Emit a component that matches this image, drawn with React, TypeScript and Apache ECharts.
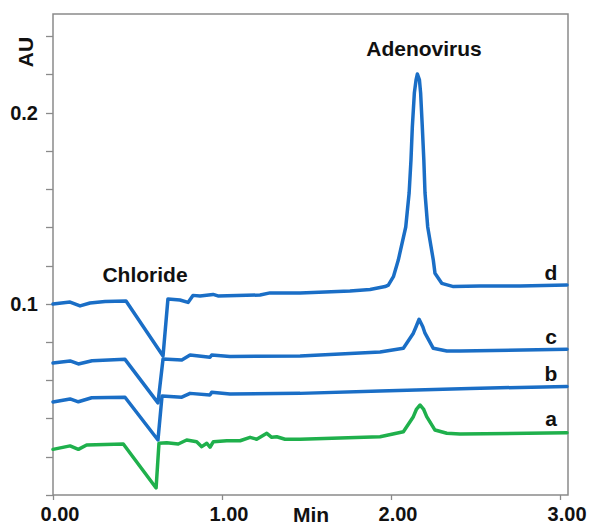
import React, { useEffect, useRef } from "react";
import * as echarts from "echarts";

const xTicks = [0, 1, 2, 3];
const yLabelValues = [0.1, 0.2];

const traceD: [number, number][] = [
  [0.0, 0.1], [0.101, 0.101], [0.16, 0.099], [0.219, 0.1005], [0.308, 0.1013], [0.432, 0.1016],
  [0.651, 0.0728], [0.68, 0.1026], [0.751, 0.1021], [0.799, 0.1008], [0.828, 0.1045], [0.87, 0.1042],
  [0.947, 0.105], [0.976, 0.1042], [1.225, 0.1047], [1.284, 0.1058], [1.462, 0.1058], [1.757, 0.1068],
  [1.876, 0.1076], [1.965, 0.1091], [1.984, 0.1099], [2.014, 0.1143], [2.043, 0.123], [2.087, 0.1403],
  [2.107, 0.1581], [2.118, 0.1754], [2.126, 0.1927], [2.138, 0.2105], [2.148, 0.2173], [2.156, 0.2204],
  [2.168, 0.2173], [2.175, 0.2105], [2.185, 0.1927], [2.194, 0.1754], [2.201, 0.1581], [2.217, 0.1403],
  [2.25, 0.123], [2.26, 0.1161], [2.3, 0.1108], [2.369, 0.1091], [2.527, 0.1094], [2.763, 0.1094],
  [3.041, 0.1099],
];

const traceC: [number, number][] = [
  [0.0, 0.0691], [0.101, 0.0702], [0.15, 0.0686], [0.231, 0.0703], [0.426, 0.071], [0.621, 0.0482],
  [0.651, 0.0712], [0.762, 0.0707], [0.811, 0.0733], [0.929, 0.0721], [0.939, 0.0733], [1.047, 0.0725],
  [1.462, 0.0728], [1.935, 0.0749], [2.073, 0.0768], [2.132, 0.0847], [2.148, 0.0881], [2.166, 0.092],
  [2.188, 0.0881], [2.201, 0.0847], [2.25, 0.0768], [2.33, 0.0754], [2.408, 0.0754], [3.041, 0.0763],
];

const traceB: [number, number][] = [
  [0.0, 0.0487], [0.101, 0.0503], [0.15, 0.0488], [0.229, 0.0509], [0.426, 0.0512], [0.621, 0.0288],
  [0.645, 0.0518], [0.762, 0.0512], [0.811, 0.0532], [0.929, 0.0524], [0.939, 0.0538], [1.047, 0.0529],
  [1.462, 0.0532], [1.935, 0.0545], [2.468, 0.0558], [3.041, 0.0568],
];

const traceA: [number, number][] = [
  [0.0, 0.0239], [0.101, 0.0257], [0.15, 0.0239], [0.199, 0.0262], [0.416, 0.0267], [0.61, 0.0037],
  [0.627, 0.0271], [0.673, 0.0274], [0.741, 0.0267], [0.791, 0.0288], [0.85, 0.0279], [0.88, 0.0253],
  [0.91, 0.0271], [0.929, 0.025], [0.949, 0.0279], [1.028, 0.0284], [1.107, 0.0284], [1.166, 0.0302],
  [1.205, 0.0292], [1.265, 0.0323], [1.294, 0.0302], [1.324, 0.0305], [1.373, 0.0292], [1.462, 0.0292],
  [1.935, 0.0305], [2.073, 0.0331], [2.132, 0.041], [2.151, 0.045], [2.172, 0.0471], [2.192, 0.045],
  [2.211, 0.041], [2.26, 0.034], [2.33, 0.0323], [2.408, 0.0319], [3.041, 0.0326],
];

const BLUE = "#1a6ec6";
const GREEN = "#1fb04c";
const FONT = "'Liberation Sans', Arial, sans-serif";

export default function App() {
  const ref = useRef<HTMLDivElement>(null);
  useEffect(() => {
    if (!ref.current) return;
    document.body.style.margin = "0";
    const chart = echarts.init(ref.current, null, { renderer: "svg" });
    const lineSeries = (name: string, data: [number, number][], color: string) => ({
      name,
      type: "line",
      data,
      showSymbol: false,
      symbol: "none",
      lineStyle: { color, width: 3.5, join: "round", cap: "round" },
      z: 3,
    });
    const txt = (text: string, x: number, y: number, size = 21, rotation = 0) => ({
      type: "text",
      x,
      y,
      rotation,
      style: {
        text,
        fill: "#111",
        font: `bold ${size}px ${FONT}`,
        align: "center",
        verticalAlign: "middle",
      },
    });
    chart.setOption({
      animation: false,
      grid: {
        left: 53,
        top: 14,
        width: 515,
        height: 481,
        outerBoundsMode: "none",
        containLabel: false,
        show: true,
        borderColor: "#8a8a8a",
        borderWidth: 1.5,
        backgroundColor: "transparent",
      },
      xAxis: {
        type: "value",
        min: 0,
        max: 3.047,
        interval: 1,
        axisLine: { show: false },
        axisTick: { show: true, length: 5, lineStyle: { color: "#8a8a8a", width: 1.3 } },
        splitLine: { show: false },
        axisLabel: {
          margin: 9,
          padding: [0, 0, 0, 14],
          fontFamily: FONT,
          fontWeight: "bold",
          fontSize: 20,
          lineHeight: 20,
          color: "#111",
          formatter: (v: number) => (xTicks.includes(Math.round(v)) ? v.toFixed(2) : ""),
        },
      },
      yAxis: {
        type: "value",
        min: 0,
        max: 0.2518,
        interval: 0.02,
        axisLine: { show: false },
        axisTick: { show: true, length: 7, lineStyle: { color: "#8a8a8a", width: 1.3 } },
        splitLine: { show: false },
        axisLabel: {
          margin: 15,
          padding: [6, 0, 0, 0],
          fontFamily: FONT,
          fontWeight: "bold",
          fontSize: 20,
          color: "#111",
          showMaxLabel: false,
          formatter: (v: number) => {
            const hit = yLabelValues.find((t) => Math.abs(t - v) < 1e-6);
            return hit !== undefined ? String(hit) : "";
          },
        },
      },
      series: [
        lineSeries("a", traceA, GREEN),
        lineSeries("b", traceB, BLUE),
        lineSeries("c", traceC, BLUE),
        lineSeries("d", traceD, BLUE),
      ],
      graphic: [
        txt("AU", 25, 52, 21, Math.PI / 2),
        txt("Min", 311, 514),
        txt("Chloride", 145, 274),
        txt("Adenovirus", 424, 48),
        txt("d", 551, 272),
        txt("c", 551, 336),
        txt("b", 551, 373),
        txt("a", 551, 418),
      ],
    });
    return () => chart.dispose();
  }, []);
  return <div ref={ref} style={{ width: 590, height: 526 }} />;
}
